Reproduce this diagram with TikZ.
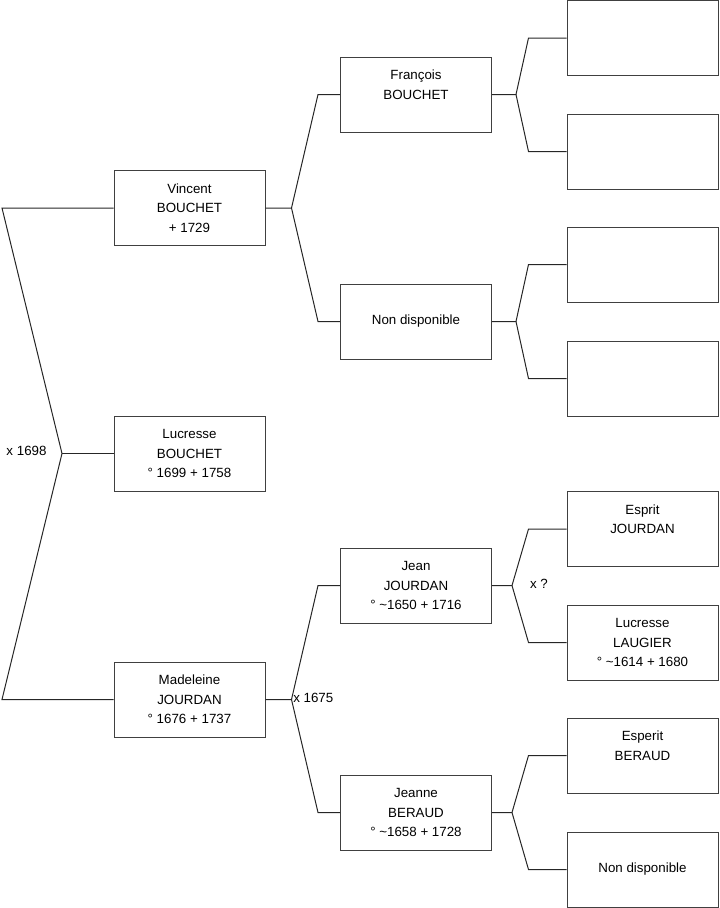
\documentclass[tikz,border=0pt]{standalone}
\usepackage{fontspec}
\setmainfont{Liberation Sans}
\usetikzlibrary{positioning}

\begin{document}
\begin{tikzpicture}[x=0.75pt,y=-0.75pt,
        person/.style={draw=black!75,line width=0.75pt,inner sep=0pt,minimum width=113.25pt,minimum height=56.25pt,align=center,font=\fontsize{10}{14.6}\selectfont},
        link/.style={black!85,line width=0.75pt},
        tag/.style={inner sep=0pt,font=\fontsize{10}{12}\selectfont}]
        \useasboundingbox (0,0) rectangle (719,908);
        % first generation
        \node[person] (vincent) at (189.5,208) {Vincent\\BOUCHET\\+ 1729};
        \node[person] (lucresse) at (189.5,453.5) {Lucresse\\BOUCHET\\° 1699 + 1758};
        \node[person] (madeleine) at (189.5,699.5) {Madeleine\\JOURDAN\\° 1676 + 1737};
        % second generation
        \node[person] (francois) at (416,94.5) {François\\BOUCHET\\~};
        \node[person] (inconnu) at (416,321.5) {Non disponible};
        \node[person] (jean) at (416,585.5) {Jean\\JOURDAN\\° \textasciitilde1650 + 1716};
        \node[person] (jeanne) at (416,812.5) {Jeanne\\BERAUD\\° \textasciitilde1658 + 1728};
        % third generation
        \foreach \n/\y in {a/38, b/151.5, c/264.5, d/378.5} {
            \node[person] (\n) at (642.5,\y) {};
        }
        \node[person] (esprit) at (642.5,529) {Esprit\\JOURDAN\\~};
        \node[person] (laugier) at (642.5,642.5) {Lucresse\\LAUGIER\\° \textasciitilde1614 + 1680};
        \node[person] (esperit) at (642.5,755.5) {Esperit\\BERAUD\\~};
        \node[person] (nondispo) at (642.5,869.5) {Non disponible};
        % forks
        \coordinate (r1) at (2,208);
        \coordinate (r0) at (62,453.5);
        \coordinate (r2) at (2,699.5);
        \draw[link] (vincent.west) -- (r1) -- (r0) -- (r2) -- (madeleine.west);
        \draw[link] (r0) -- (lucresse.west);
        \node[tag] (m1) at (26.5,451) {x 1698};
        \foreach \p/\u/\d in {vincent/francois/inconnu, madeleine/jean/jeanne} {
            \coordinate (\p-f) at ([shift={(26,0)}]\p.east);
            \draw[link] (\p.east) -- (\p-f) -- ([shift={(-22,0)}]\u.west) -- (\u.west);
            \draw[link] (\p-f) -- ([shift={(-22,0)}]\d.west) -- (\d.west);
        }
        \foreach \p/\u/\d/\s in {francois/a/b/24, inconnu/c/d/24, jean/esprit/laugier/20, jeanne/esperit/nondispo/20} {
            \coordinate (\p-f) at ([shift={(\s,0)}]\p.east);
            \draw[link] (\p.east) -- (\p-f) -- ([shift={(-38,0)}]\u.west) -- (\u.west);
            \draw[link] (\p-f) -- ([shift={(-38,0)}]\d.west) -- (\d.west);
        }
        \node[tag,anchor=west] (m2) at (293,698) {x 1675};
        \node[tag] (m3) at (539,584) {x ?};
    \end{tikzpicture}
\end{document}
